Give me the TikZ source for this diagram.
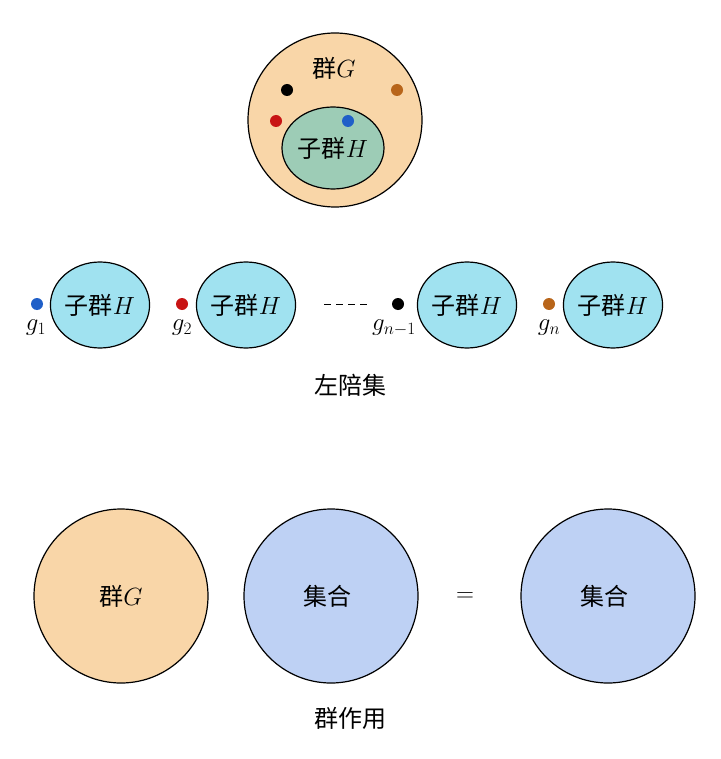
\documentclass[tikz,border=0pt]{standalone}
\usepackage{fontspec}
\newfontfamily\cjk{Noto Sans CJK SC}
\usetikzlibrary{positioning, shapes.geometric}
\definecolor{groupc}{HTML}{F9D6A8}
\definecolor{subc}{HTML}{9DCCB6}
\definecolor{cosetc}{HTML}{A0E2F0}
\definecolor{setc}{HTML}{BED1F4}
\definecolor{dotblue}{HTML}{1F5FC8}
\definecolor{dotred}{HTML}{C81414}
\definecolor{dotbrown}{HTML}{B8651A}
\tikzset{
    big/.style={circle, draw, line width=1.2pt, minimum size=174pt, inner sep=0pt, font=\cjk\fontsize{24}{28}\selectfont},
    coset/.style={ellipse, draw, line width=1.2pt, fill=cosetc, minimum width=96pt, minimum height=86pt, inner sep=0pt, font=\cjk\fontsize{24}{28}\selectfont},
    pt/.style={circle, fill=#1, minimum size=12pt, inner sep=0pt},
    lbl/.style={font=\fontsize{24}{28}\selectfont},
    captext/.style={font=\cjk\fontsize{24}{28}\selectfont}
}
\begin{document}
\begin{tikzpicture}[x=1pt, y=-1pt]
    \useasboundingbox (0,0) rectangle (720,759);
    % Group and subgroup
    \node[big, fill=groupc] (G) at (335,120) {};
    \node[ellipse, draw, line width=1.2pt, fill=subc, minimum width=102pt, minimum height=82pt, inner sep=0pt, font=\cjk\fontsize{24}{28}\selectfont] (H) at (333,148) {子群$H$};
    \node[captext] (Gl) at (334,68) {群$G$};
    \node[pt=black] (a) at (287,90) {};
    \node[pt=dotred] (b) at (276,121) {};
    \node[pt=dotblue] (c) at (348,121) {};
    \node[pt=dotbrown] (d) at (397,90) {};

    % Left cosets
    \node[coset] (H1) at (100,305) {子群$H$};
    \node[coset] (H2) at (246,305) {子群$H$};
    \node[coset] (H3) at (467,305) {子群$H$};
    \node[coset] (H4) at (613,305) {子群$H$};
    \node[pt=dotblue] (g1) at (37,304) {};
    \node[pt=dotred] (g2) at (182,304) {};
    \node[pt=black] (g3) at (398,304) {};
    \node[pt=dotbrown] (g4) at (549,304) {};
    \node[lbl] at (36,328) {$g_1$};
    \node[lbl] at (182,328) {$g_2$};
    \node[lbl] at (394,328) {$g_{n-1}$};
    \node[lbl] at (549,328) {$g_n$};
    \draw[line width=1pt, dash pattern=on 7pt off 5pt] (324,304) -- (370,304);
    \node[captext] (coset) at (350,385) {左陪集};

    % Group action
    \node[big, fill=groupc] (G2) at (121,596) {群$G$};
    \node[big, fill=setc] (O1) at (331,596) {集合$\mathit{\Omega}$};
    \node[big, fill=setc] (O2) at (608,596) {集合$\mathit{\Omega}$};
    \node[lbl] (eq) at (465,597) {$=$};
    \node[captext] (act) at (350,718) {群作用};
\end{tikzpicture}
\end{document}
